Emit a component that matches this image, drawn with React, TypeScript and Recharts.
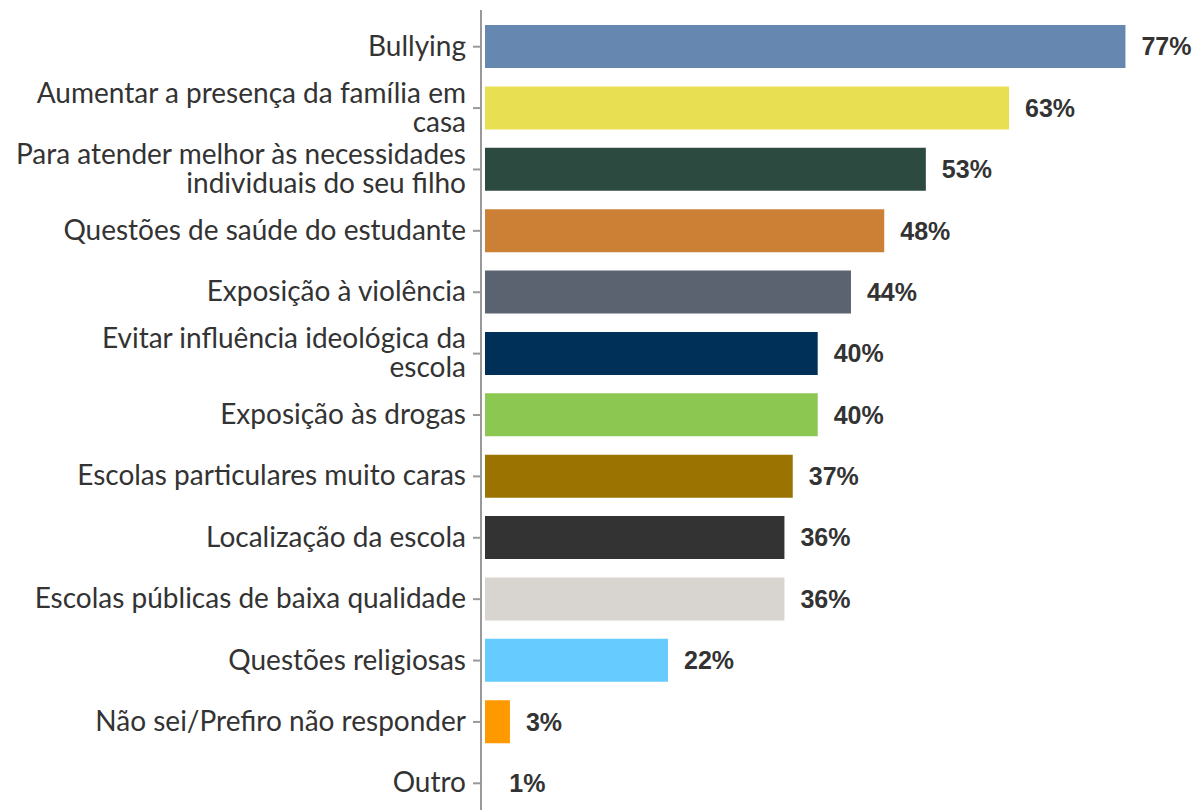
import { Bar, BarChart, Cell, LabelList, XAxis, YAxis } from "recharts";

// motivos (rótulos do eixo, "\n" marca a quebra de linha)
const categories = [
  "Bullying",
  "Aumentar a presença da família em\ncasa",
  "Para atender melhor às necessidades\nindividuais do seu filho",
  "Questões de saúde do estudante",
  "Exposição à violência",
  "Evitar influência ideológica da\nescola",
  "Exposição às drogas",
  "Escolas particulares muito caras",
  "Localização da escola",
  "Escolas públicas de baixa qualidade",
  "Questões religiosas",
  "Não sei/Prefiro não responder",
  "Outro",
];

const percents = [77, 63, 53, 48, 44, 40, 40, 37, 36, 36, 22, 3, 1];

const barColors = [
  "#6688b0",
  "#e8e052",
  "#2c4a3f",
  "#cc8035",
  "#5c6370",
  "#003057",
  "#8bc751",
  "#9b7300",
  "#333333",
  "#d8d5d0",
  "#66ccff",
  "#ff9900",
  "#ffffff",
];

const data = categories.map((name, i) => ({ name, value: percents[i] }));

function CategoryTick(props: any) {
  const { x, y, payload } = props;
  const lines = String(payload.value).split("\n");
  const lineH = 29;
  const startDy = -((lines.length - 1) * lineH) / 2;
  return (
    <text
      x={x}
      y={y}
      textAnchor="end"
      fill="#333333"
      style={{ fontFamily: "Lato", fontSize: 28 }}
    >
      {lines.map((l, i) => (
        <tspan key={i} x={x} dy={i === 0 ? startDy + 9 : lineH}>
          {l}
        </tspan>
      ))}
    </text>
  );
}

export default function App() {
  return (
    <div style={{ position: "fixed", top: 0, left: 0, width: 1199, height: 810, overflow: "hidden", background: "#fff" }}>
      <BarChart
        width={1199}
        height={830}
        data={data}
        layout="vertical"
        margin={{ top: 10, right: 7, bottom: 16, left: 0 }}
      >
        <XAxis type="number" domain={[0, 85]} hide padding={{ left: 4, right: 0 }} />
        <YAxis
          type="category"
          dataKey="name"
          width={481}
          interval={0}
          padding={{ top: 6, bottom: 0 }}
          axisLine={{ stroke: "#999999", strokeWidth: 2 }}
          tickLine={{ stroke: "#999999", strokeWidth: 2 }}
          tickSize={8}
          tickMargin={7}
          tick={<CategoryTick />}
        />
        <Bar dataKey="value" barSize={43} isAnimationActive={false}>
          {data.map((d, i) => (
            <Cell key={d.name} fill={barColors[i]} />
          ))}
          <LabelList
            dataKey="value"
            position="right"
            offset={16}
            formatter={(v: any) => `${v}%`}
            style={{ fontFamily: "Liberation Sans", fontWeight: 700, fontSize: 25, fill: "#333333" }}
          />
        </Bar>
      </BarChart>
    </div>
  );
}
